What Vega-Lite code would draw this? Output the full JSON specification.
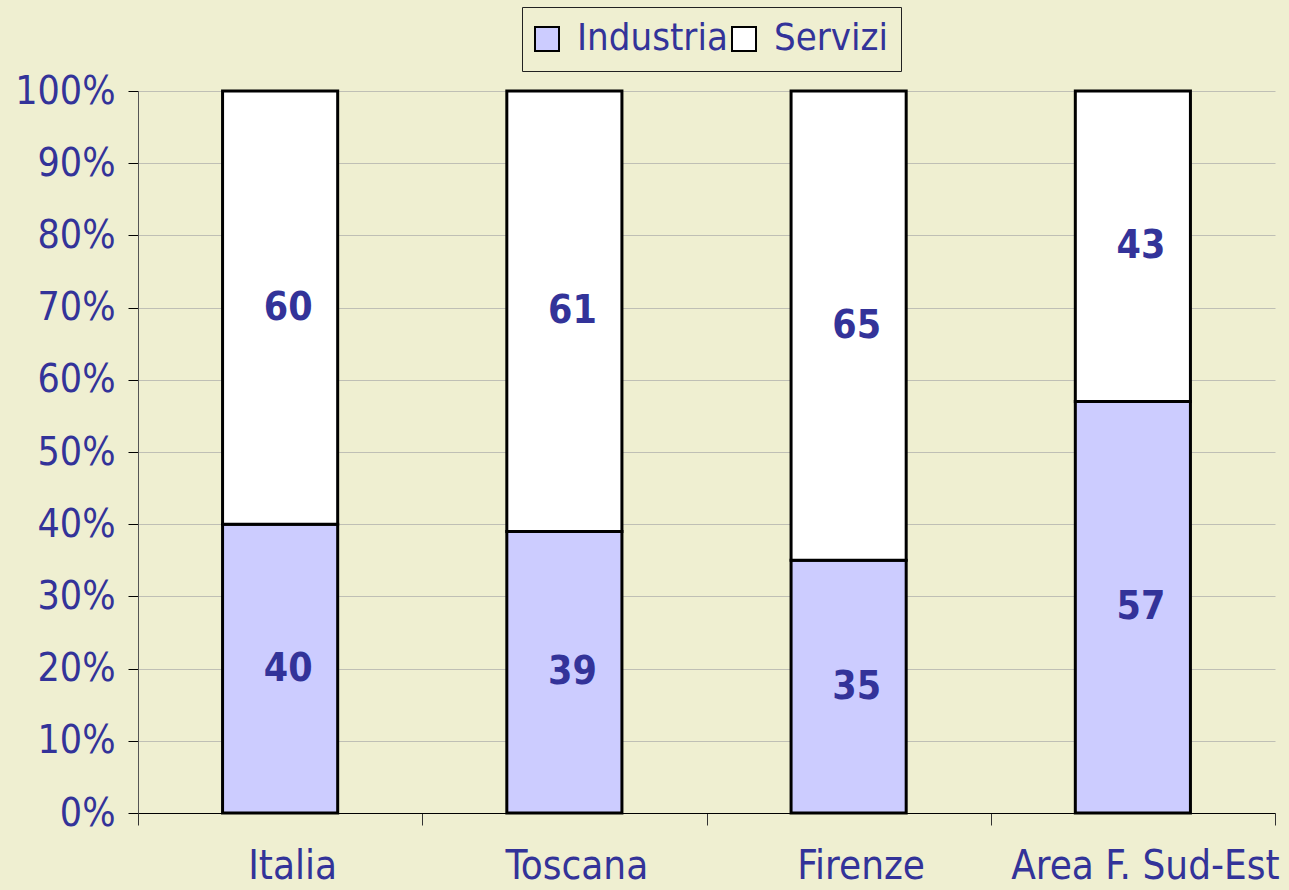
{
  "$schema": "https://vega.github.io/schema/vega-lite/v6.json",
  "width": 1137,
  "height": 722,
  "autosize": "none",
  "padding": {"left": 138, "top": 91, "right": 14, "bottom": 77},
  "background": "#EFEFD1",
  "config": {"view": {"stroke": null}, "font": "DejaVu Sans Condensed"},
  "data": {
    "values": [
      {"Area": "Italia", "Settore": "Industria", "Valore": 40},
      {"Area": "Italia", "Settore": "Servizi", "Valore": 60},
      {"Area": "Toscana", "Settore": "Industria", "Valore": 39},
      {"Area": "Toscana", "Settore": "Servizi", "Valore": 61},
      {"Area": "Firenze", "Settore": "Industria", "Valore": 35},
      {"Area": "Firenze", "Settore": "Servizi", "Valore": 65},
      {"Area": "Area F. Sud-Est", "Settore": "Industria", "Valore": 57},
      {"Area": "Area F. Sud-Est", "Settore": "Servizi", "Valore": 43}
    ]
  },
  "encoding": {
    "x": {
      "field": "Area",
      "type": "nominal",
      "sort": null,
      "scale": {"paddingInner": 0, "paddingOuter": 0},
      "axis": {
        "title": null,
        "labelAngle": 0,
        "tickBand": "extent",
        "tickSize": 12,
        "tickColor": "#333333",
        "domainColor": "#000000",
        "labelFontSize": 40,
        "labelColor": "#333399",
        "labelPadding": 21,
        "labelOffset": 12,
        "labelLimit": 0,
        "grid": false
      }
    }
  },
  "layer": [
    {
      "mark": {"type": "bar", "stroke": "#000000", "strokeWidth": 3, "width": {"band": 0.405}},
      "encoding": {
        "y": {
          "field": "Valore",
          "type": "quantitative",
          "stack": "normalize",
          "scale": {"domain": [0, 1]},
          "axis": {
            "title": null,
            "values": [0, 0.1, 0.2, 0.3, 0.4, 0.5, 0.6, 0.7, 0.8, 0.9, 1],
            "format": ".0%",
            "grid": true,
            "gridColor": "#BFBFB5",
            "tickSize": 10,
            "tickColor": "#000000",
            "domainColor": "#555555",
            "labelFontSize": 39,
            "labelColor": "#333399",
            "labelPadding": 13
          }
        },
        "color": {
          "field": "Settore",
          "type": "nominal",
          "scale": {"domain": ["Industria", "Servizi"], "range": ["#CCCCFF", "#FFFFFF"]},
          "legend": {
            "title": null,
            "orient": "none",
            "legendX": 384,
            "legendY": -84,
            "direction": "horizontal",
            "symbolType": "square",
            "symbolSize": 576,
            "symbolStrokeColor": "#000000",
            "symbolStrokeWidth": 2,
            "symbolOffset": -7,
            "labelFontSize": 38,
            "labelColor": "#333399",
            "labelOffset": 11,
            "columnPadding": 0,
            "padding": 13,
            "strokeColor": "#222222",
            "fillColor": "#EFEFD1"
          }
        },
        "order": {"field": "Settore", "type": "ordinal", "sort": "ascending"}
      }
    },
    {
      "transform": [
        {"stack": "Valore", "groupby": ["Area"], "sort": [{"field": "Settore", "order": "ascending"}], "offset": "normalize", "as": ["v0", "v1"]},
        {"fold": ["v0", "v1"], "as": ["estremo", "pos"]}
      ],
      "mark": {"type": "text", "fontSize": 39, "fontWeight": "bold", "color": "#333399", "baseline": "middle", "dx": 8},
      "encoding": {
        "y": {"field": "pos", "aggregate": "mean", "type": "quantitative", "stack": null, "axis": {"title": null}},
        "detail": {"field": "Settore"},
        "text": {"field": "Valore", "type": "quantitative"}
      }
    }
  ]
}
